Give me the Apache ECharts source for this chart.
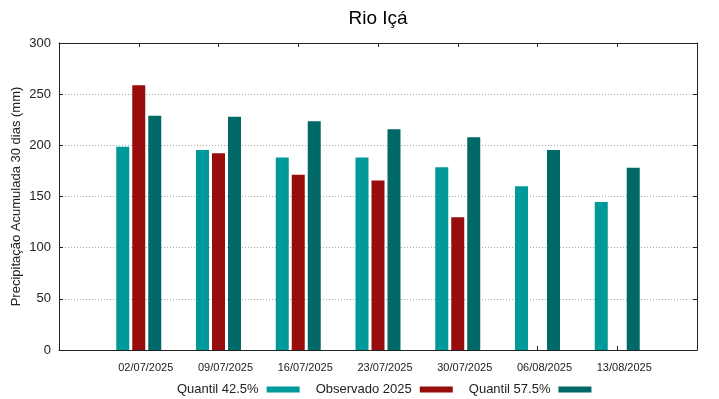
<!DOCTYPE html>
<html>
<head>
<meta charset="utf-8">
<script src="https://cdn.jsdelivr.net/npm/echarts@6/dist/echarts.min.js"></script>
<style>
  html, body { margin: 0; padding: 0; background: #fff; }
  #chart { width: 719px; height: 399px; }
</style>
</head>
<body>
<div id="chart"></div>
<script>
const datas = ['02/07/2025', '09/07/2025', '16/07/2025', '23/07/2025', '30/07/2025', '06/08/2025', '13/08/2025'];
const quantil425 = [198.6, 195.4, 188.2, 188.2, 178.7, 160.1, 144.7];
const observado = [258.8, 192.2, 171.2, 165.7, 129.7, null, null];
const quantil575 = [229.0, 228.0, 223.5, 215.7, 207.8, 195.4, 178.0];
const yTicks = [0, 50, 100, 150, 200, 250, 300];

const toPairs = (vals) => vals.map((v, i) => [i, v]);

const fonte = '"Liberation Sans", Arial, sans-serif';

const eixoX = (pos, labels) => ({
  type: 'value',
  position: pos,
  min: -1,
  max: 7,
  interval: 1,
  axisLine: { show: true, onZero: false, lineStyle: { color: '#222', width: 1 } },
  axisTick: { show: true, inside: true, length: 4, lineStyle: { color: '#222' } },
  splitLine: { show: false },
  axisLabel: {
    show: labels,
    fontFamily: fonte,
    fontSize: 11,
    color: '#222',
    margin: 12,
    padding: [0, 0, 0, 14],
    formatter: (v) => datas[v] || ''
  }
});

const eixoY = (pos, labels) => ({
  type: 'value',
  position: pos,
  min: yTicks[0],
  max: yTicks[yTicks.length - 1],
  interval: 50,
  name: labels ? 'Precipitação Acumulada 30 dias (mm)' : '',
  nameLocation: 'middle',
  nameGap: 36,
  nameMoveOverlap: false,
  nameTextStyle: { fontFamily: fonte, fontSize: 13, color: '#222' },
  axisLine: { show: true, onZero: false, lineStyle: { color: '#222', width: 1 } },
  axisTick: { show: true, inside: true, length: 4, lineStyle: { color: '#222' } },
  splitLine: labels ? { show: true, lineStyle: { color: '#aaa', type: [1, 2], width: 1 } } : { show: false },
  axisLabel: { show: labels, fontFamily: fonte, fontSize: 13, color: '#222', margin: 8 }
});

const barra = (nome, vals, cor) => ({
  name: nome,
  type: 'bar',
  data: toPairs(vals),
  barWidth: 13,
  barGap: '23%',
  itemStyle: { color: cor },
  animation: false
});

const chart = echarts.init(document.getElementById('chart'));
chart.setOption({
  backgroundColor: '#fff',
  title: {
    text: 'Rio Içá',
    left: 373,
    textAlign: 'center',
    top: 4,
    textStyle: { fontFamily: fonte, fontSize: 19, fontWeight: 'normal', color: '#000' }
  },
  legend: {
    top: 378,
    left: 172,
    align: 'right',
    icon: 'rect',
    itemWidth: 33,
    itemHeight: 6,
    itemGap: 16,
    textStyle: { fontFamily: fonte, fontSize: 13, color: '#222', padding: [0, 3, 0, 0] },
    data: ['Quantil 42.5%', 'Observado 2025', 'Quantil 57.5%']
  },
  grid: { left: 59, right: 22, top: 43, bottom: 49, outerBoundsMode: 'none' },
  xAxis: [eixoX('bottom', true), eixoX('top', false)],
  yAxis: [eixoY('left', true), eixoY('right', false)],
  series: [
    barra('Quantil 42.5%', quantil425, '#009999'),
    barra('Observado 2025', observado, '#990c0c'),
    barra('Quantil 57.5%', quantil575, '#006866')
  ]
});
</script>
</body>
</html>
